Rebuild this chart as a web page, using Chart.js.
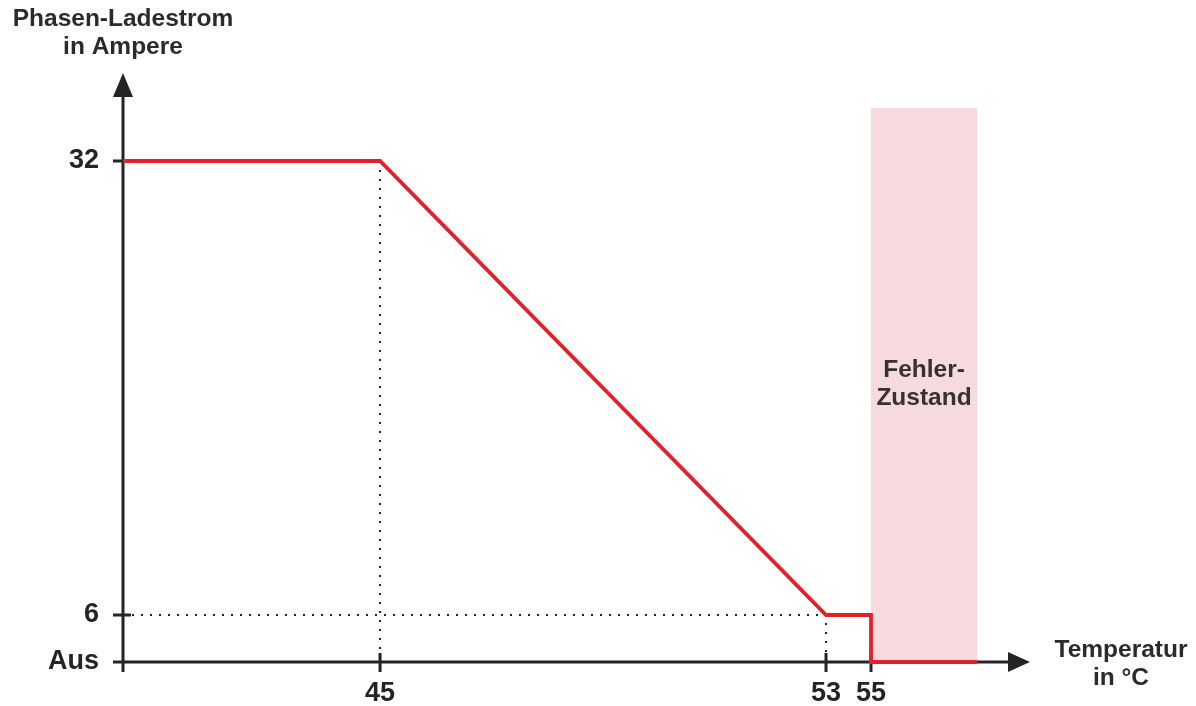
<!DOCTYPE html>
<html lang="de">
<head>
<meta charset="utf-8">
<script src="https://cdn.jsdelivr.net/npm/chart.js@4.4.1/dist/chart.umd.min.js"></script>
<style>
  html, body { margin: 0; padding: 0; background: #fff; }
  #wrap { width: 1196px; height: 706px; position: relative; }
</style>
</head>
<body>
<div id="wrap"><canvas id="ladekurve"></canvas></div>
<script>
// Daten
const temperatur = [40, 45, 53, 55, 55, 57];
const ladestrom  = [32, 32, 6, 6, 0, 0];
const xTicks = [45, 53, 55];
const yTicks = [0, 6, 32];
const yTickLabels = ['Aus', '6', '32'];
const fehlerBereich = [55, 57];
const fehlerOben = 35;

// schematische Achsen: Wert -> Anteil der Achsenlaenge
const xStuetzen = [[40, 0], [45, 0.2834], [53, 0.7751], [55, 0.8247], [57, 0.9416], [58, 1]];
const yStuetzen = [[0, 0], [6, 0.0798], [32, 0.8506], [35, 0.9406], [36, 1]];

const dunkel = '#242424';
const rot = '#e3212b';

function interpol(st, v, a, b) {
  if (v <= st[0][a]) return st[0][b];
  for (let i = 1; i < st.length; i++) {
    if (v <= st[i][a]) {
      const p = st[i - 1], q = st[i];
      return p[b] + (v - p[a]) / (q[a] - p[a]) * (q[b] - p[b]);
    }
  }
  return st[st.length - 1][b];
}

class StueckweiseSkala extends Chart.LinearScale {
  static id = 'stueckweise';
  static defaults = Chart.LinearScale.defaults;
  getPixelForValue(value) {
    return this.getPixelForDecimal(interpol(this.options.stuetzen, value, 0, 1));
  }
  getValueForPixel(pixel) {
    return interpol(this.options.stuetzen, this.getDecimalForPixel(pixel), 1, 0);
  }
}
Chart.register(StueckweiseSkala);

const punkte = temperatur.map((t, i) => ({ x: t, y: ladestrom[i] }));

const achsenPlugin = {
  id: 'achsen',
  beforeDatasetsDraw(chart) {
    const { ctx, chartArea: ca, scales: { x, y } } = chart;
    const x0 = ca.left, y0 = ca.bottom;
    ctx.save();
    // Fehlerbereich
    ctx.fillStyle = '#f7dadd';
    const bx0 = x.getPixelForValue(fehlerBereich[0]);
    const bx1 = x.getPixelForValue(fehlerBereich[1]);
    const by0 = y.getPixelForValue(fehlerOben);
    ctx.fillRect(bx0, by0, bx1 - bx0, y0 - by0);
    ctx.fillStyle = '#333';
    ctx.font = 'bold 24.5px "Liberation Sans", Arial, sans-serif';
    ctx.textAlign = 'center';
    ctx.textBaseline = 'middle';
    ctx.fillText('Fehler-', (bx0 + bx1) / 2, 370);
    ctx.fillText('Zustand', (bx0 + bx1) / 2, 398);

    // Achsen
    ctx.strokeStyle = dunkel;
    ctx.fillStyle = dunkel;
    ctx.lineWidth = 3;
    ctx.beginPath();
    ctx.moveTo(x0, 97);
    ctx.lineTo(x0, y0 + 10);
    ctx.moveTo(x0 - 10, y0);
    ctx.lineTo(ca.right - 22, y0);
    yTicks.forEach(v => {
      const py = y.getPixelForValue(v);
      ctx.moveTo(x0 - 10, py);
      ctx.lineTo(x0 + 8, py);
    });
    xTicks.forEach(v => {
      const px = x.getPixelForValue(v);
      ctx.moveTo(px, y0 - 9);
      ctx.lineTo(px, y0 + 10);
    });
    ctx.stroke();
    // Pfeile
    ctx.beginPath();
    ctx.moveTo(x0, ca.top);
    ctx.lineTo(x0 - 10, ca.top + 24);
    ctx.lineTo(x0 + 10, ca.top + 24);
    ctx.closePath();
    ctx.moveTo(ca.right, y0);
    ctx.lineTo(ca.right - 22, y0 - 10);
    ctx.lineTo(ca.right - 22, y0 + 10);
    ctx.closePath();
    ctx.fill();
    ctx.restore();
  },
  afterDraw(chart) {
    const { ctx, chartArea: ca } = chart;
    ctx.save();
    ctx.fillStyle = '#2b2b2b';
    ctx.font = 'bold 24.5px "Liberation Sans", Arial, sans-serif';
    ctx.textAlign = 'center';
    ctx.textBaseline = 'middle';
    ctx.fillText('Phasen-Ladestrom', ca.left, 19);
    ctx.fillText('in Ampere', ca.left, 47);
    ctx.fillText('Temperatur', 1121, 650);
    ctx.fillText('in °C', 1121, 678);
    ctx.restore();
  }
};

const tickFont = { family: '"Liberation Sans", Arial, sans-serif', size: 27, weight: 'bold' };

new Chart(document.getElementById('ladekurve'), {
  type: 'line',
  data: {
    datasets: [{
      label: 'Ladestrom',
      data: punkte,
      borderColor: rot,
      borderWidth: 3.8,
      pointRadius: 0,
      tension: 0,
      clip: false
    }, {
      label: 'Hilfslinie 45',
      data: [{ x: 45, y: 32 }, { x: 45, y: 0 }],
      borderColor: '#222',
      borderWidth: 2,
      borderDash: [2, 7],
      pointRadius: 0
    }, {
      label: 'Hilfslinie 6',
      data: [{ x: 40, y: 6 }, { x: 53, y: 6 }, { x: 53, y: 0 }],
      borderColor: '#222',
      borderWidth: 2,
      borderDash: [2, 7],
      pointRadius: 0
    }]
  },
  options: {
    responsive: true,
    maintainAspectRatio: false,
    animation: false,
    layout: { padding: { top: 73, right: 166, left: 0, bottom: 0 } },
    plugins: { legend: { display: false }, tooltip: { enabled: false } },
    scales: {
      x: {
        type: 'stueckweise',
        stuetzen: xStuetzen,
        min: 40, max: 58,
        border: { display: false },
        grid: { display: false, drawTicks: false },
        afterBuildTicks: axis => { axis.ticks = xTicks.map(v => ({ value: v })); },
        afterFit: axis => { axis.height = 44; },
        ticks: {
          autoSkip: false, maxRotation: 0, padding: 15,
          color: dunkel, font: tickFont,
          callback: v => String(v)
        }
      },
      y: {
        type: 'stueckweise',
        stuetzen: yStuetzen,
        min: 0, max: 36,
        border: { display: false },
        grid: { display: false, drawTicks: false },
        afterBuildTicks: axis => { axis.ticks = yTicks.map(v => ({ value: v })); },
        afterFit: axis => { axis.width = 123; },
        ticks: {
          autoSkip: false, padding: 24,
          color: dunkel, font: tickFont,
          callback: v => yTickLabels[yTicks.indexOf(v)]
        }
      }
    }
  },
  plugins: [achsenPlugin]
});
</script>
</body>
</html>
